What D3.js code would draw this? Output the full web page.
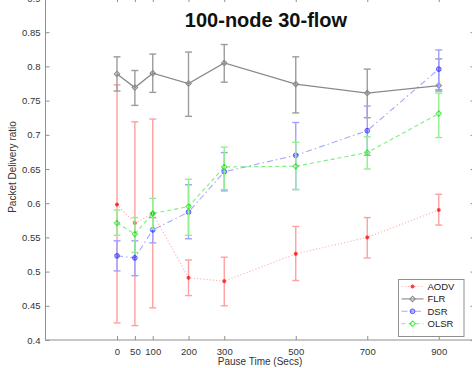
<!DOCTYPE html>
<html>
<head>
<meta charset="utf-8">
<script src="https://cdn.jsdelivr.net/npm/d3@7"></script>
<style>
  body { margin: 0; background: #fff; }
  svg { display: block; font-family: "Liberation Sans", Arial, sans-serif; }
</style>
</head>
<body>
<svg id="chart" width="472" height="368"></svg>
<script>
// pause times (secs)
const pauseTimes = [0, 50, 100, 200, 300, 500, 700, 900];

// packet delivery ratio, mean + error bar ends
const aodv = [0.598, 0.571, 0.585, 0.491, 0.486, 0.526, 0.550, 0.590];
const aodvLo = [0.425, 0.421, 0.447, 0.465, 0.450, 0.487, 0.520, 0.568];
const aodvHi = [0.773, 0.719, 0.723, 0.517, 0.521, 0.566, 0.579, 0.613];

const flr = [0.789, 0.769, 0.790, 0.775, 0.805, 0.774, 0.761, 0.772];
const flrLo = [0.764, 0.743, 0.762, 0.727, 0.777, 0.732, 0.725, 0.764];
const flrHi = [0.814, 0.794, 0.818, 0.821, 0.832, 0.814, 0.796, 0.811];

const dsr = [0.523, 0.520, 0.561, 0.587, 0.646, 0.670, 0.706, 0.796];
const dsrLo = [0.501, 0.494, 0.542, 0.548, 0.618, 0.620, 0.670, 0.766];
const dsrHi = [0.545, 0.545, 0.579, 0.627, 0.674, 0.718, 0.742, 0.824];

const olsr = [0.571, 0.555, 0.585, 0.595, 0.653, 0.654, 0.674, 0.731];
const olsrLo = [0.553, 0.528, 0.562, 0.553, 0.620, 0.620, 0.650, 0.696];
const olsrHi = [0.590, 0.579, 0.607, 0.635, 0.682, 0.689, 0.697, 0.761];

const yTicks = [0.4, 0.45, 0.5, 0.55, 0.6, 0.65, 0.7, 0.75, 0.8, 0.85, 0.9];

const series = [
  { name: "AODV", mean: aodv, lo: aodvLo, hi: aodvHi, color: "#ff0000", bar: "#ffa0a0", dash: "1.2,2", marker: "star", op: 0.3 },
  { name: "FLR", mean: flr, lo: flrLo, hi: flrHi, color: "#8a8a8a", bar: "#9c9c9c", dash: null, marker: "diamond", op: 1 },
  { name: "DSR", mean: dsr, lo: dsrLo, hi: dsrHi, color: "#0000ff", bar: "#a0a0ff", dash: "6,3,1.5,3", marker: "circle", op: 0.35 },
  { name: "OLSR", mean: olsr, lo: olsrLo, hi: olsrHi, color: "#00dd00", bar: "#90f090", dash: "4,3", marker: "diamond", op: 0.5 }
];

const svg = d3.select("#chart");
const x = d3.scaleLinear().domain([-200, 1000]).range([45.5, 474.5]);
const y = d3.scaleLinear().domain([0.4, 0.9]).range([340, -2]);

const axisColor = "#8f8f8f";
const g = svg.append("g");

// frame
g.append("rect")
  .attr("x", x(-200)).attr("y", y(0.9))
  .attr("width", x(1000) - x(-200)).attr("height", y(0.4) - y(0.9))
  .attr("fill", "none").attr("stroke", axisColor).attr("stroke-width", 1);

// axes with inward ticks
const yAxis = g.append("g").attr("transform", "translate(" + x(-200) + ",0)")
  .call(d3.axisLeft(y).tickValues(yTicks).tickSizeInner(-4).tickSizeOuter(0).tickPadding(5)
    .tickFormat(d => d3.format("")(+d.toFixed(2))));
const yAxisR = g.append("g").attr("transform", "translate(" + x(1000) + ",0)")
  .call(d3.axisRight(y).tickValues(yTicks).tickSizeInner(-4).tickSizeOuter(0).tickFormat(""));
const xAxis = g.append("g").attr("transform", "translate(0," + y(0.4) + ")")
  .call(d3.axisBottom(x).tickValues(pauseTimes).tickSizeInner(-4).tickSizeOuter(0).tickPadding(8));
const xAxisT = g.append("g").attr("transform", "translate(0," + y(0.9) + ")")
  .call(d3.axisTop(x).tickValues(pauseTimes).tickSizeInner(-4).tickSizeOuter(0).tickFormat(""));

[yAxis, yAxisR, xAxis, xAxisT].forEach(a => {
  a.select(".domain").remove();
  a.selectAll("line").attr("stroke", axisColor);
  a.selectAll("text").attr("fill", "#333").style("font-size", "9.5px")
    .style("font-family", "'Liberation Sans', Arial, sans-serif");
});

// markers
function drawMarker(sel, type, color, cx, cy, op) {
  if (type === "star") {
    const s = 2;
    const m = sel.append("g").attr("stroke", color).attr("stroke-width", 1.2).attr("opacity", 0.75);
    m.append("line").attr("x1", cx - s).attr("x2", cx + s).attr("y1", cy).attr("y2", cy);
    m.append("line").attr("x1", cx).attr("x2", cx).attr("y1", cy - s).attr("y2", cy + s);
    m.append("line").attr("x1", cx - s * 0.7).attr("x2", cx + s * 0.7).attr("y1", cy - s * 0.7).attr("y2", cy + s * 0.7);
    m.append("line").attr("x1", cx - s * 0.7).attr("x2", cx + s * 0.7).attr("y1", cy + s * 0.7).attr("y2", cy - s * 0.7);
  } else if (type === "diamond") {
    const s = 2.7;
    sel.append("path")
      .attr("d", `M${cx},${cy - s}L${cx + s},${cy}L${cx},${cy + s}L${cx - s},${cy}Z`)
      .attr("fill", "none").attr("stroke", color).attr("stroke-width", 1.1).attr("opacity", Math.max(op, 0.65));
  } else {
    sel.append("circle").attr("cx", cx).attr("cy", cy).attr("r", 2.4)
      .attr("fill", color).attr("fill-opacity", 0.3)
      .attr("stroke", color).attr("stroke-width", 1).attr("stroke-opacity", 0.55);
  }
}

const cap = 3.5;
const plot = svg.append("g");
series.forEach(s => {
  const sg = plot.append("g");
  // error bars
  pauseTimes.forEach((t, i) => {
    const bx = x(t);
    sg.append("line").attr("x1", bx).attr("x2", bx).attr("y1", y(s.lo[i])).attr("y2", y(s.hi[i]))
      .attr("stroke", s.bar).attr("stroke-width", 1.4);
    [s.lo[i], s.hi[i]].forEach(v => {
      sg.append("line").attr("x1", bx - cap).attr("x2", bx + cap).attr("y1", y(v)).attr("y2", y(v))
        .attr("stroke", s.bar).attr("stroke-width", 1.4);
    });
  });
  // connecting line
  const line = d3.line().x((d, i) => x(pauseTimes[i])).y(d => y(d));
  sg.append("path").datum(s.mean).attr("d", line)
    .attr("fill", "none").attr("stroke", s.color).attr("stroke-opacity", s.op)
    .attr("stroke-width", s.name === "FLR" ? 1.3 : 1.1)
    .attr("stroke-dasharray", s.dash);
  s.mean.forEach((v, i) => drawMarker(sg, s.marker, s.color, x(pauseTimes[i]), y(v), s.op));
});

// legend
const lg = svg.append("g").attr("transform", "translate(398.5,279.5)");
lg.append("rect").attr("width", 65.5).attr("height", 57)
  .attr("fill", "#fff").attr("stroke", "#8f8f8f").attr("stroke-width", 1);
series.forEach((s, i) => {
  const ly = 7 + i * 12.4;
  lg.append("line").attr("x1", 3).attr("x2", 25).attr("y1", ly).attr("y2", ly)
    .attr("stroke", s.color).attr("stroke-opacity", s.op).attr("stroke-width", 1.1)
    .attr("stroke-dasharray", s.dash);
  drawMarker(lg, s.marker, s.color, 14, ly, s.op);
  lg.append("text").attr("x", 29).attr("y", ly + 3.5).text(s.name)
    .attr("fill", "#222").style("font-size", "9.5px");
});

// title and labels
svg.append("text").attr("x", 266).attr("y", 26.5).attr("text-anchor", "middle")
  .style("font-size", "20px").style("font-weight", "bold").attr("fill", "#111")
  .text("100-node 30-flow");
svg.append("text").attr("x", 260).attr("y", 364.5).attr("text-anchor", "middle")
  .style("font-size", "10px").attr("fill", "#333").text("Pause Time (Secs)");
svg.append("text").attr("transform", "translate(16,167) rotate(-90)").attr("text-anchor", "middle")
  .style("font-size", "10px").attr("fill", "#333").text("Packet Delivery ratio");
</script>
</body>
</html>
